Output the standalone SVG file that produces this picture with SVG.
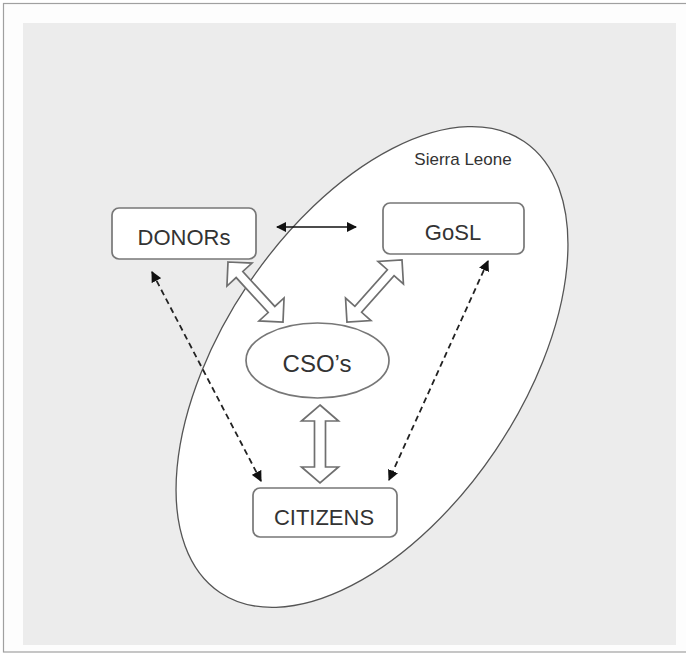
<svg xmlns="http://www.w3.org/2000/svg" width="686" height="662" viewBox="0 0 686 662">
<style>
.box{fill:#fff;stroke:#777;stroke-width:1.7}
.lbl{font-family:"Liberation Sans",Arial,sans-serif;fill:#333;text-anchor:middle}
.block{fill:#fff;stroke:#6f6f6f;stroke-width:1.7;stroke-linejoin:miter}
.dash{fill:none;stroke:#222;stroke-width:1.8;stroke-dasharray:6 4}
.solid{fill:none;stroke:#111;stroke-width:1.7}
</style>
<defs>
<marker id="ah" viewBox="0 0 10 10" refX="9" refY="5" markerWidth="6" markerHeight="6" orient="auto-start-reverse" markerUnits="strokeWidth">
<path d="M0,0 L10,5 L0,10 z" fill="#111"/>
</marker>
</defs>
<rect x="0" y="0" width="686" height="662" fill="#fff"/>
<rect x="3.5" y="3.5" width="690" height="648.5" fill="#fdfdfd" stroke="#a0a0a0" stroke-width="1.2"/>
<rect x="23" y="23" width="653" height="622" fill="#ececec"/>
<g id="sierra-leone">
<ellipse cx="372" cy="367" rx="272" ry="149" transform="rotate(-56 372 367)" fill="#fff" stroke="#555" stroke-width="1.3"/>
<text class="lbl" x="463" y="165" font-size="17" fill="#444">Sierra Leone</text>
</g>
<g id="connectors">
<line class="solid" x1="277" y1="227" x2="356" y2="227" marker-start="url(#ah)" marker-end="url(#ah)"/>
<line class="dash" x1="152" y1="272" x2="261" y2="481" marker-start="url(#ah)" marker-end="url(#ah)"/>
<line class="dash" x1="488" y1="261" x2="389" y2="480" marker-start="url(#ah)" marker-end="url(#ah)"/>
<polygon class="block" transform="translate(228 262) rotate(47.5)" points="0,0 17,-17 17,-4.5 64.4,-4.5 64.4,-17 81.4,0 64.4,17 64.4,4.5 17,4.5 17,17"/>
<polygon class="block" transform="translate(402 260) rotate(131.6)" points="0,0 17,-17 17,-4.5 65.9,-4.5 65.9,-17 82.9,0 65.9,17 65.9,4.5 17,4.5 17,17"/>
<polygon class="block" points="320,405 338.5,421 325.5,421 325.5,467 338.5,467 320,483 301.5,467 314.5,467 314.5,421 301.5,421"/>
</g>
<g id="donors">
<rect class="box" x="112" y="208" width="144" height="51" rx="7"/>
<text class="lbl" x="184" y="245" font-size="22">DONORs</text>
</g>
<g id="gosl">
<rect class="box" x="383" y="203" width="141" height="51" rx="7"/>
<text class="lbl" x="453" y="240" font-size="22">GoSL</text>
</g>
<g id="csos">
<ellipse class="box" cx="317.5" cy="360.5" rx="71.5" ry="37.5"/>
<text class="lbl" x="317" y="372" font-size="24">CSO’s</text>
</g>
<g id="citizens">
<rect class="box" x="253" y="488" width="144" height="49" rx="7"/>
<text class="lbl" x="324" y="525" font-size="22">CITIZENS</text>
</g>
</svg>
